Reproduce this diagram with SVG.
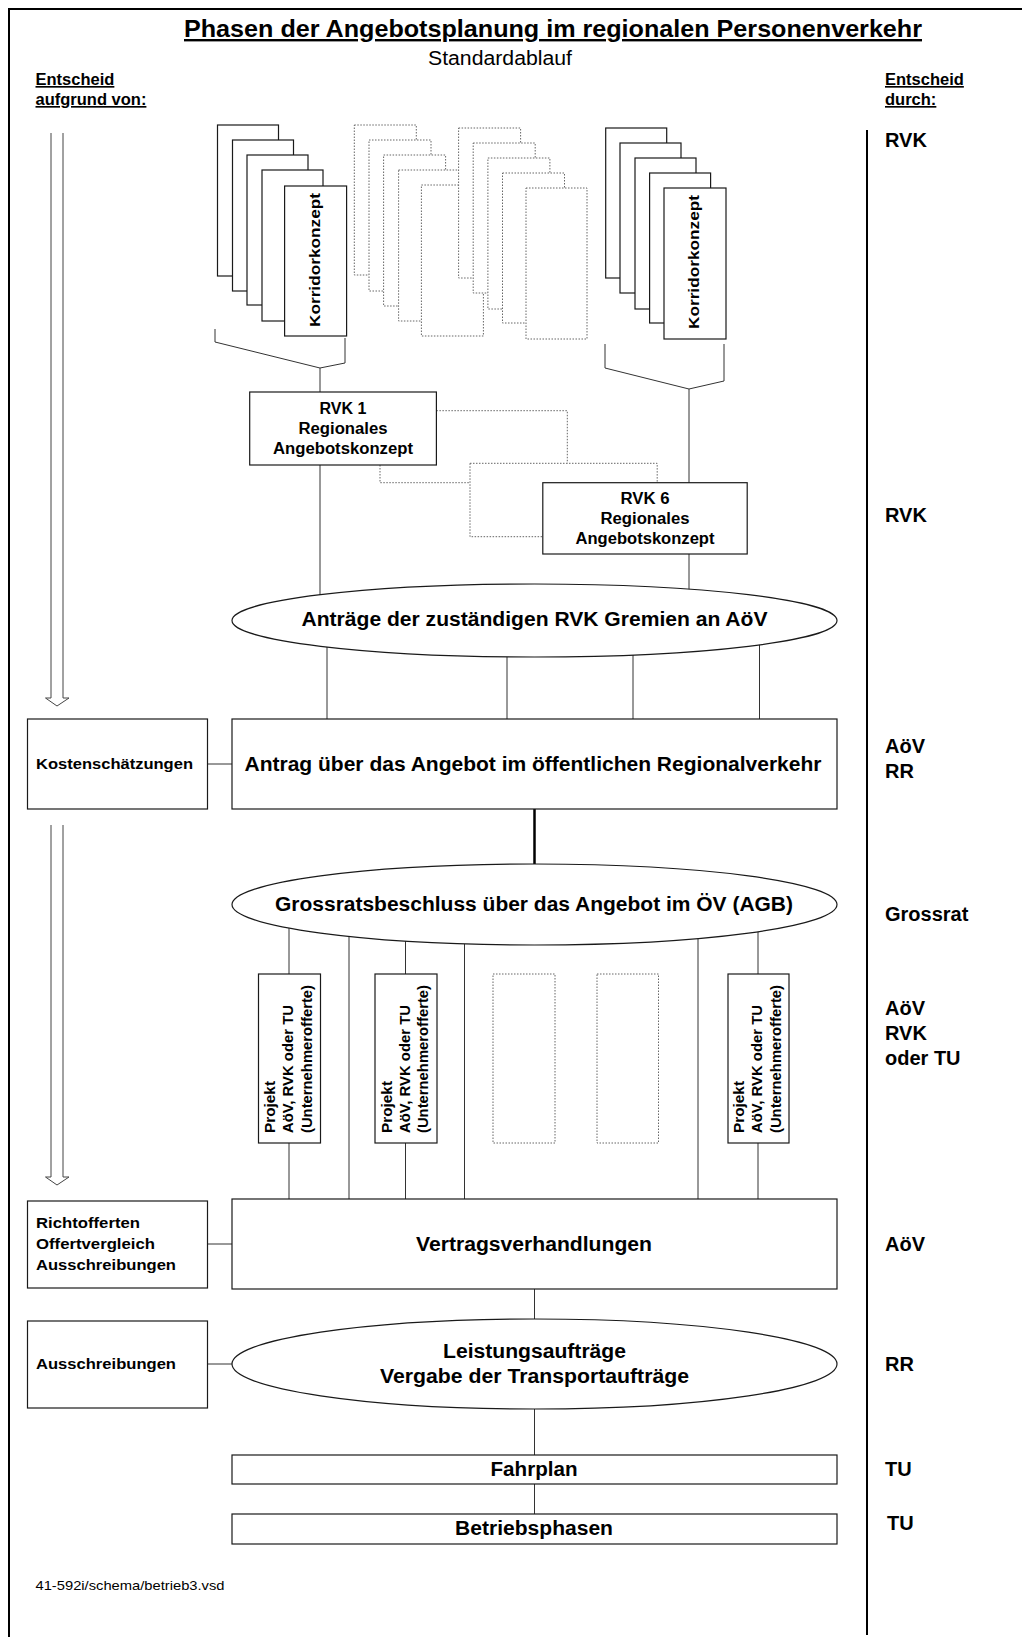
<svg xmlns="http://www.w3.org/2000/svg" width="1022" height="1637" viewBox="0 0 1022 1637">
<style>
text { font-family: "Liberation Sans", Arial, Helvetica, sans-serif; fill: #000; }
.bd { font-weight: bold; }
.m { text-anchor: middle; }
.u { text-decoration: underline; }
.box { fill: #fff; stroke: #1a1a1a; stroke-width: 1.2; }
.dot { fill: #fff; stroke: #666; stroke-width: 1; stroke-dasharray: 1.5 1.5; }
.c { fill: none; stroke: #333; stroke-width: 1; }
.dc { fill: none; stroke: #666; stroke-width: 1; stroke-dasharray: 1.5 1.5; }
.arr { fill: #fff; stroke: #444; stroke-width: 1; }
.lab { font-weight: bold; font-size: 20px; }
</style>

<g id="frame">
  <path d="M9,1637 V9 H1022" fill="none" stroke="#000" stroke-width="2"/>
  <line x1="867" y1="130" x2="867" y2="1635" stroke="#000" stroke-width="2"/>
</g>

<g id="header">
  <text x="184" y="37" class="bd u" font-size="24" textLength="738" lengthAdjust="spacingAndGlyphs">Phasen der Angebotsplanung im regionalen Personenverkehr</text>
  <text x="500" y="65" class="m" font-size="20" textLength="144" lengthAdjust="spacingAndGlyphs">Standardablauf</text>
  <text x="35.5" y="85" class="bd u" font-size="16.5">Entscheid</text>
  <text x="35.5" y="105" class="bd u" font-size="16.5">aufgrund von:</text>
  <text x="885" y="85" class="bd u" font-size="16.5">Entscheid</text>
  <text x="885" y="105" class="bd u" font-size="16.5">durch:</text>
</g>

<g id="right-labels" class="lab">
  <text x="885" y="147">RVK</text>
  <text x="885" y="522">RVK</text>
  <text x="885" y="753">AöV</text>
  <text x="885" y="778">RR</text>
  <text x="885" y="921">Grossrat</text>
  <text x="885" y="1015">AöV</text>
  <text x="885" y="1040">RVK</text>
  <text x="885" y="1065">oder TU</text>
  <text x="885" y="1251">AöV</text>
  <text x="885" y="1371">RR</text>
  <text x="885" y="1476">TU</text>
  <text x="887" y="1530">TU</text>
</g>

<g id="flow-arrows">
  <path class="arr" d="M51,133 V698 H45.5 L57,706 L69,698 H63 V133"/>
  <path class="arr" d="M51,825 V1177 H45.5 L57,1185 L69,1177 H63 V825"/>
</g>

<g id="connectors">
  <path class="c" d="M215,329 V342 L320,368 L345,363 V338"/>
  <path class="c" d="M605,344 V368 L689,389 L724,381 V344"/>
  <path class="c" d="M320,368 V620"/>
  <path class="c" d="M689,389 V620"/>
  <path class="dc" d="M436.4,410.7 H567.3 V463.3"/>
  <path class="dc" d="M470,463.3 H657.2 V482.7"/>
  <path class="dc" d="M380,465 V482.7 H470"/>
  <path class="dc" d="M470,463.3 V536.7 H542.8"/>
  <path class="c" d="M327,620 V719 M507,620 V719 M633,620 V719 M759.5,620 V719"/>
  <line x1="534.5" y1="809" x2="534.5" y2="904" stroke="#000" stroke-width="2.5"/>
  <path class="c" d="M289,904 V1199 M349,904 V1199 M405.5,904 V1199 M464.5,904 V1199 M698,904 V1199 M758,904 V1199"/>
  <path class="c" d="M534.5,1289 V1364 M534.5,1364 V1455 M534.5,1484 V1514"/>
  <path class="c" d="M207.5,764 H232 M207.5,1244 H232 M207.5,1364 H232"/>
</g>

<g id="stack-left">
  <rect class="box" x="217.5" y="125" width="61" height="151"/>
  <rect class="box" x="232.5" y="140" width="61" height="151"/>
  <rect class="box" x="247" y="155" width="61" height="150"/>
  <rect class="box" x="262" y="170" width="61" height="151"/>
  <rect class="box" x="284.6" y="186" width="62" height="150"/>
  <text class="bd m" font-size="15" textLength="134" lengthAdjust="spacingAndGlyphs" transform="translate(320,260) rotate(-90)">Korridorkonzept</text>
</g>

<g id="stack-dotted-1">
  <rect class="dot" x="354.3" y="125" width="62" height="150"/>
  <rect class="dot" x="369" y="140" width="62" height="151"/>
  <rect class="dot" x="383.6" y="155" width="62" height="151"/>
  <rect class="dot" x="398.6" y="170" width="61.4" height="151"/>
  <rect class="dot" x="421.4" y="185" width="62" height="151"/>
</g>

<g id="stack-dotted-2">
  <rect class="dot" x="458.6" y="128" width="62" height="150"/>
  <rect class="dot" x="473.2" y="143" width="62" height="150"/>
  <rect class="dot" x="487.9" y="158" width="62" height="151"/>
  <rect class="dot" x="502.5" y="173" width="62" height="150"/>
  <rect class="dot" x="526" y="188" width="61" height="151"/>
</g>

<g id="stack-right">
  <rect class="box" x="605.7" y="128" width="61" height="150"/>
  <rect class="box" x="620" y="143" width="61" height="150"/>
  <rect class="box" x="635" y="158" width="61" height="151"/>
  <rect class="box" x="649.6" y="173" width="61" height="150"/>
  <rect class="box" x="664" y="188" width="62" height="151"/>
  <text class="bd m" font-size="15" textLength="134" lengthAdjust="spacingAndGlyphs" transform="translate(699,262) rotate(-90)">Korridorkonzept</text>
</g>

<g id="rvk1">
  <rect class="box" x="249.7" y="392" width="186.7" height="73"/>
  <text class="bd m" font-size="16" x="343" y="414" textLength="47" lengthAdjust="spacingAndGlyphs">RVK 1</text>
  <text class="bd m" font-size="16" x="343" y="434" textLength="89" lengthAdjust="spacingAndGlyphs">Regionales</text>
  <text class="bd m" font-size="16" x="343" y="454" textLength="140" lengthAdjust="spacingAndGlyphs">Angebotskonzept</text>
</g>

<g id="rvk6">
  <rect class="box" x="542.8" y="482.7" width="204.4" height="71.3"/>
  <text class="bd m" font-size="16" x="645" y="504" textLength="49" lengthAdjust="spacingAndGlyphs">RVK 6</text>
  <text class="bd m" font-size="16" x="645" y="524" textLength="89" lengthAdjust="spacingAndGlyphs">Regionales</text>
  <text class="bd m" font-size="16" x="645" y="544" textLength="139" lengthAdjust="spacingAndGlyphs">Angebotskonzept</text>
</g>

<g id="antraege">
  <ellipse class="box" cx="534.5" cy="620.5" rx="302.5" ry="36.5"/>
  <text class="bd m" font-size="20" x="534.5" y="626" textLength="466" lengthAdjust="spacingAndGlyphs">Anträge der zuständigen RVK Gremien an AöV</text>
</g>

<g id="kosten">
  <rect class="box" x="27.5" y="719" width="180" height="90"/>
  <text class="bd" font-size="15.5" x="36" y="769" textLength="157" lengthAdjust="spacingAndGlyphs">Kostenschätzungen</text>
</g>

<g id="antrag">
  <rect class="box" x="232" y="719" width="605" height="90"/>
  <text class="bd m" font-size="20" x="533" y="771" textLength="577" lengthAdjust="spacingAndGlyphs">Antrag über das Angebot im öffentlichen Regionalverkehr</text>
</g>

<g id="grossrat">
  <ellipse class="box" cx="534.5" cy="904.5" rx="302.5" ry="40.5"/>
  <text class="bd m" font-size="20" x="534" y="911" textLength="518" lengthAdjust="spacingAndGlyphs">Grossratsbeschluss über das Angebot im ÖV (AGB)</text>
</g>

<g id="projekt1">
  <rect class="box" x="258.5" y="974" width="62" height="169"/>
  <text class="bd" font-size="14.5" textLength="52" lengthAdjust="spacingAndGlyphs" transform="translate(275,1133) rotate(-90)">Projekt</text>
  <text class="bd" font-size="14.5" textLength="128" lengthAdjust="spacingAndGlyphs" transform="translate(293,1133) rotate(-90)">AöV, RVK oder TU</text>
  <text class="bd" font-size="14.5" textLength="148" lengthAdjust="spacingAndGlyphs" transform="translate(311.5,1133) rotate(-90)">(Unternehmerofferte)</text>
</g>

<g id="projekt2">
  <rect class="box" x="375" y="974" width="62" height="169"/>
  <text class="bd" font-size="14.5" textLength="52" lengthAdjust="spacingAndGlyphs" transform="translate(391.5,1133) rotate(-90)">Projekt</text>
  <text class="bd" font-size="14.5" textLength="128" lengthAdjust="spacingAndGlyphs" transform="translate(409.5,1133) rotate(-90)">AöV, RVK oder TU</text>
  <text class="bd" font-size="14.5" textLength="148" lengthAdjust="spacingAndGlyphs" transform="translate(428,1133) rotate(-90)">(Unternehmerofferte)</text>
</g>

<g id="projekt-dotted-1">
  <rect class="dot" x="493" y="974" width="62" height="169"/>
</g>

<g id="projekt-dotted-2">
  <rect class="dot" x="597" y="974" width="61.5" height="169"/>
</g>

<g id="projekt3">
  <rect class="box" x="728" y="974" width="61" height="169"/>
  <text class="bd" font-size="14.5" textLength="52" lengthAdjust="spacingAndGlyphs" transform="translate(744,1133) rotate(-90)">Projekt</text>
  <text class="bd" font-size="14.5" textLength="128" lengthAdjust="spacingAndGlyphs" transform="translate(762,1133) rotate(-90)">AöV, RVK oder TU</text>
  <text class="bd" font-size="14.5" textLength="148" lengthAdjust="spacingAndGlyphs" transform="translate(780.5,1133) rotate(-90)">(Unternehmerofferte)</text>
</g>

<g id="richtofferten">
  <rect class="box" x="27.5" y="1201" width="180" height="87"/>
  <text class="bd" font-size="15.5" x="36" y="1228" textLength="104" lengthAdjust="spacingAndGlyphs">Richtofferten</text>
  <text class="bd" font-size="15.5" x="36" y="1249" textLength="119" lengthAdjust="spacingAndGlyphs">Offertvergleich</text>
  <text class="bd" font-size="15.5" x="36" y="1270" textLength="140" lengthAdjust="spacingAndGlyphs">Ausschreibungen</text>
</g>

<g id="vertrag">
  <rect class="box" x="232" y="1199" width="605" height="90"/>
  <text class="bd m" font-size="20" x="534" y="1251" textLength="236" lengthAdjust="spacingAndGlyphs">Vertragsverhandlungen</text>
</g>

<g id="ausschreibungen">
  <rect class="box" x="27.5" y="1321" width="180" height="87"/>
  <text class="bd" font-size="15.5" x="36" y="1369" textLength="140" lengthAdjust="spacingAndGlyphs">Ausschreibungen</text>
</g>

<g id="leistung">
  <ellipse class="box" cx="534.5" cy="1364" rx="302.5" ry="45"/>
  <text class="bd m" font-size="20" x="534.5" y="1358" textLength="183" lengthAdjust="spacingAndGlyphs">Leistungsaufträge</text>
  <text class="bd m" font-size="20" x="534.5" y="1383" textLength="309" lengthAdjust="spacingAndGlyphs">Vergabe der Transportaufträge</text>
</g>

<g id="fahrplan">
  <rect class="box" x="232" y="1455" width="605" height="29"/>
  <text class="bd m" font-size="20" x="534" y="1476" textLength="87" lengthAdjust="spacingAndGlyphs">Fahrplan</text>
</g>

<g id="betrieb">
  <rect class="box" x="232" y="1514" width="605" height="30"/>
  <text class="bd m" font-size="20" x="534" y="1535" textLength="158" lengthAdjust="spacingAndGlyphs">Betriebsphasen</text>
</g>

<g id="footer">
  <text x="35.5" y="1590" font-size="13.5" textLength="189" lengthAdjust="spacingAndGlyphs">41-592i/schema/betrieb3.vsd</text>
</g>
</svg>
